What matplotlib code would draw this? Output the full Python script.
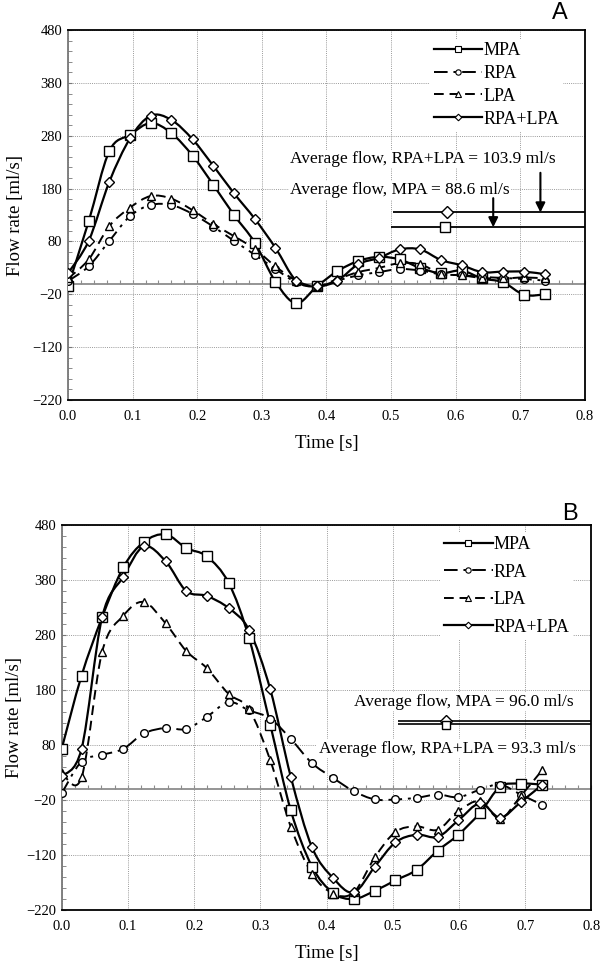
import matplotlib
matplotlib.use("Agg")
import matplotlib.pyplot as plt
from matplotlib.path import Path
from matplotlib.patches import PathPatch
from matplotlib.lines import Line2D
from matplotlib.ticker import MultipleLocator, FormatStrFormatter

plt.rcParams['font.family'] = ['Liberation Serif', 'DejaVu Serif']

# ---- data ----
series_names = ["MPA", "RPA", "LPA", "RPA+LPA"]

t_A = [0.000, 0.032, 0.064, 0.096, 0.128, 0.160, 0.193, 0.225, 0.257, 0.289, 0.321, 0.353,
       0.385, 0.417, 0.449, 0.481, 0.513, 0.545, 0.577, 0.609, 0.641, 0.673, 0.706, 0.738]
mpa_A = [-5, 118, 251, 282, 304, 285, 242, 187, 130, 78, 4, -37,
         -5, 24, 43, 51, 46, 30, 20, 25, 10, 3, -21, -20]
rpa_A = [5, 33, 81, 128, 149, 149, 132, 108, 81, 55, 28, 3,
         -5, 6, 16, 22, 28, 25, 18, 16, 13, 11, 9, 6]
lpa_A = [10, 46, 109, 144, 166, 161, 139, 113, 90, 66, 33, 6,
         -5, 9, 22, 30, 39, 37, 19, 16, 11, 10, 12, 10]
sum_A = [20, 81, 193, 275, 318, 310, 273, 223, 171, 123, 68, 6,
         -5, 6, 37, 49, 65, 65, 45, 35, 22, 23, 23, 18]

t_B = [0.000, 0.030, 0.061, 0.093, 0.124, 0.157, 0.188, 0.219, 0.252, 0.283, 0.315, 0.346,
       0.378, 0.410, 0.441, 0.473, 0.504, 0.536, 0.568, 0.599, 0.632, 0.662, 0.693, 0.726]
mpa_B = [73, 206, 312, 403, 449, 463, 438, 423, 375, 274, 117, -39,
         -141, -189, -200, -185, -166, -147, -112, -83, -43, 4, 10, 8]
rpa_B = [-8, 50, 62, 73, 101, 111, 109, 131, 158, 143, 128, 91,
         47, 20, -4, -19, -19, -16, -10, -15, -1, 8, -10, -29]
lpa_B = [30, 21, 249, 315, 340, 301, 251, 220, 173, 145, 52, -69,
         -154, -190, -188, -124, -78, -68, -74, -40, -22, -54, -13, 35]
sum_B = [23, 73, 312, 386, 441, 414, 360, 351, 329, 289, 181, 22,
         -106, -162, -188, -141, -97, -83, -87, -57, -26, -52, -24, 8]

# average flow lines (as drawn) and their labels
avg_A = [135, 107]          # RPA+LPA line, MPA line
avg_A_text = ["Average flow, RPA+LPA = 103.9 ml/s", "Average flow, MPA = 88.6 ml/s"]
avg_B = [124, 118]
avg_B_text = ["Average flow, MPA = 96.0 ml/s", "Average flow, RPA+LPA = 93.3 ml/s"]

# ---- styles ----
styles = {
    "MPA": dict(ls="-", lw=1.6, marker="s", ms=6.5),
    "RPA": dict(ls=(0, (7, 3, 1.5, 3)), lw=1.4, marker="o", ms=5.5),
    "LPA": dict(ls=(0, (5, 3)), lw=1.4, marker="^", ms=5.5),
    "RPA+LPA": dict(ls="-", lw=1.6, marker="D", ms=4.8),
}


def smooth_path(x, y):
    # Excel-like smoothed line (cubic bezier through the points)
    n = len(x)
    verts = [(x[0], y[0])]
    codes = [Path.MOVETO]
    for i in range(n - 1):
        p0 = i - 1 if i > 0 else i
        p3 = i + 2 if i + 2 < n else i + 1
        c1 = (x[i] + (x[i + 1] - x[p0]) / 6, y[i] + (y[i + 1] - y[p0]) / 6)
        c2 = (x[i + 1] - (x[p3] - x[i]) / 6, y[i + 1] - (y[p3] - y[i]) / 6)
        verts += [c1, c2, (x[i + 1], y[i + 1])]
        codes += [Path.CURVE4] * 3
    return Path(verts, codes)


def setup_axes(ax):
    ax.set_xlim(0, 0.8)
    ax.set_ylim(-220, 480)
    ax.xaxis.set_major_locator(MultipleLocator(0.1))
    ax.xaxis.set_major_formatter(FormatStrFormatter("%.1f"))
    ax.yaxis.set_minor_locator(MultipleLocator(20))
    ax.set_yticks(range(-220, 481, 100))
    ax.tick_params(axis="x", length=0, pad=7, labelsize=10.5)
    ax.tick_params(axis="y", which="both", direction="in", length=3, color="#777777", labelsize=10.5, pad=4)
    ax.grid(True, which="major", ls=(0, (1, 1.2)), color="#9a9a9a", lw=0.7)
    ax.set_axisbelow(True)
    for s in ["top", "right", "bottom"]:
        ax.spines[s].set_linewidth(1.3)
        ax.spines[s].set_color("black")
    ax.spines["left"].set_color("#777777")
    ax.spines["left"].set_linewidth(1.3)
    # zero axis with small ticks (Excel style)
    zx = ax.secondary_xaxis(0, transform=ax.transData)
    zx.spines["bottom"].set_color("#8c8c8c")
    zx.spines["bottom"].set_linewidth(1.3)
    zx.xaxis.set_major_locator(MultipleLocator(0.02))
    zx.tick_params(direction="in", length=3, color="#8c8c8c", labelbottom=False)
    ax.set_xlabel("Time [s]", fontsize=13.5)
    ax.set_ylabel("Flow rate [ml/s]", fontsize=13.5)


def draw_series(ax, t, data):
    for name, vals in zip(series_names, data):
        st = styles[name]
        ax.add_patch(PathPatch(smooth_path(t, vals), fill=False, ec="black",
                               lw=st["lw"], ls=st["ls"], zorder=3))
        ax.plot(t, vals, ls="none", marker=st["marker"], ms=st["ms"],
                mfc="white", mec="black", mew=1.0, zorder=4)


def add_legend(ax, anchor, spacing):
    handles = [Line2D([], [], color="black", lw=styles[n]["lw"], ls=styles[n]["ls"],
                      marker=styles[n]["marker"], ms=styles[n]["ms"] * 0.7,
                      mfc="white", mec="black", mew=0.8) for n in series_names]
    leg = ax.legend(handles, series_names, loc="upper left", bbox_to_anchor=anchor,
                    fontsize=13, handlelength=2.7, handletextpad=0.05,
                    labelspacing=spacing, borderpad=0.2, borderaxespad=0,
                    frameon=True, fancybox=False, framealpha=1, edgecolor="none")
    leg.set_zorder(6)


fig = plt.figure(figsize=(6, 9.64), dpi=100)

# ---------------- panel A ----------------
axA = fig.add_axes([0.1133, 0.585, 0.8617, 0.3838])
setup_axes(axA)
draw_series(axA, t_A, [mpa_A, rpa_A, lpa_A, sum_A])
axA.hlines(avg_A, [0.503, 0.500], 0.8, color="black", lw=1.3, zorder=5)
axA.plot(0.586, avg_A[0], ls="none", marker="D", ms=6, mfc="white", mec="black", zorder=6)
axA.plot(0.583, avg_A[1], ls="none", marker="s", ms=6.5, mfc="white", mec="black", zorder=6)
axA.annotate("", xy=(0.731, avg_A[0]), xytext=(0.731, 210),
             arrowprops=dict(arrowstyle="-|>", color="black", lw=1.5, mutation_scale=14,
                             shrinkA=0, shrinkB=0), zorder=6)
axA.annotate("", xy=(0.658, avg_A[1]), xytext=(0.658, 162),
             arrowprops=dict(arrowstyle="-|>", color="black", lw=1.5, mutation_scale=14,
                             shrinkA=0, shrinkB=0), zorder=6)
axA.text(0.344, 236, avg_A_text[0], fontsize=12.5, va="center", ha="left", zorder=5,
         bbox=dict(fc="white", ec="none", pad=1))
axA.text(0.344, 177, avg_A_text[1], fontsize=12.5, va="center", ha="left", zorder=5,
         bbox=dict(fc="white", ec="none", pad=1))
add_legend(axA, (0.70, 0.977), 0.32)
axA.xaxis.set_label_coords(0.5, -0.095)
axA.yaxis.set_label_coords(-0.085, 0.5)

# ---------------- panel B ----------------
axB = fig.add_axes([0.1028, 0.056, 0.883, 0.3994])
setup_axes(axB)
draw_series(axB, t_B, [mpa_B, rpa_B, lpa_B, sum_B])
axB.hlines(avg_B, 0.508, 0.8, color="black", lw=1.2, zorder=5)
axB.plot(0.58, avg_B[0], ls="none", marker="D", ms=6, mfc="white", mec="black", zorder=6)
axB.plot(0.58, avg_B[1] - 2, ls="none", marker="s", ms=6, mfc="white", mec="black", zorder=6)
axB.text(0.442, 159, avg_B_text[0], fontsize=12.5, va="center", ha="left", zorder=5,
         bbox=dict(fc="white", ec="none", pad=1))
axB.text(0.388, 73, avg_B_text[1], fontsize=12.5, va="center", ha="left", zorder=5,
         bbox=dict(fc="white", ec="none", pad=1))
add_legend(axB, (0.715, 0.98), 0.58)
axB.xaxis.set_label_coords(0.5, -0.091)
axB.yaxis.set_label_coords(-0.073, 0.5)

fig.text(0.933, 0.987, "A", fontsize=17, family="Liberation Sans", ha="center", va="center")
fig.text(0.95, 0.467, "B", fontsize=17, family="Liberation Sans", ha="center", va="center")

fig.savefig("out.png", dpi=100)
